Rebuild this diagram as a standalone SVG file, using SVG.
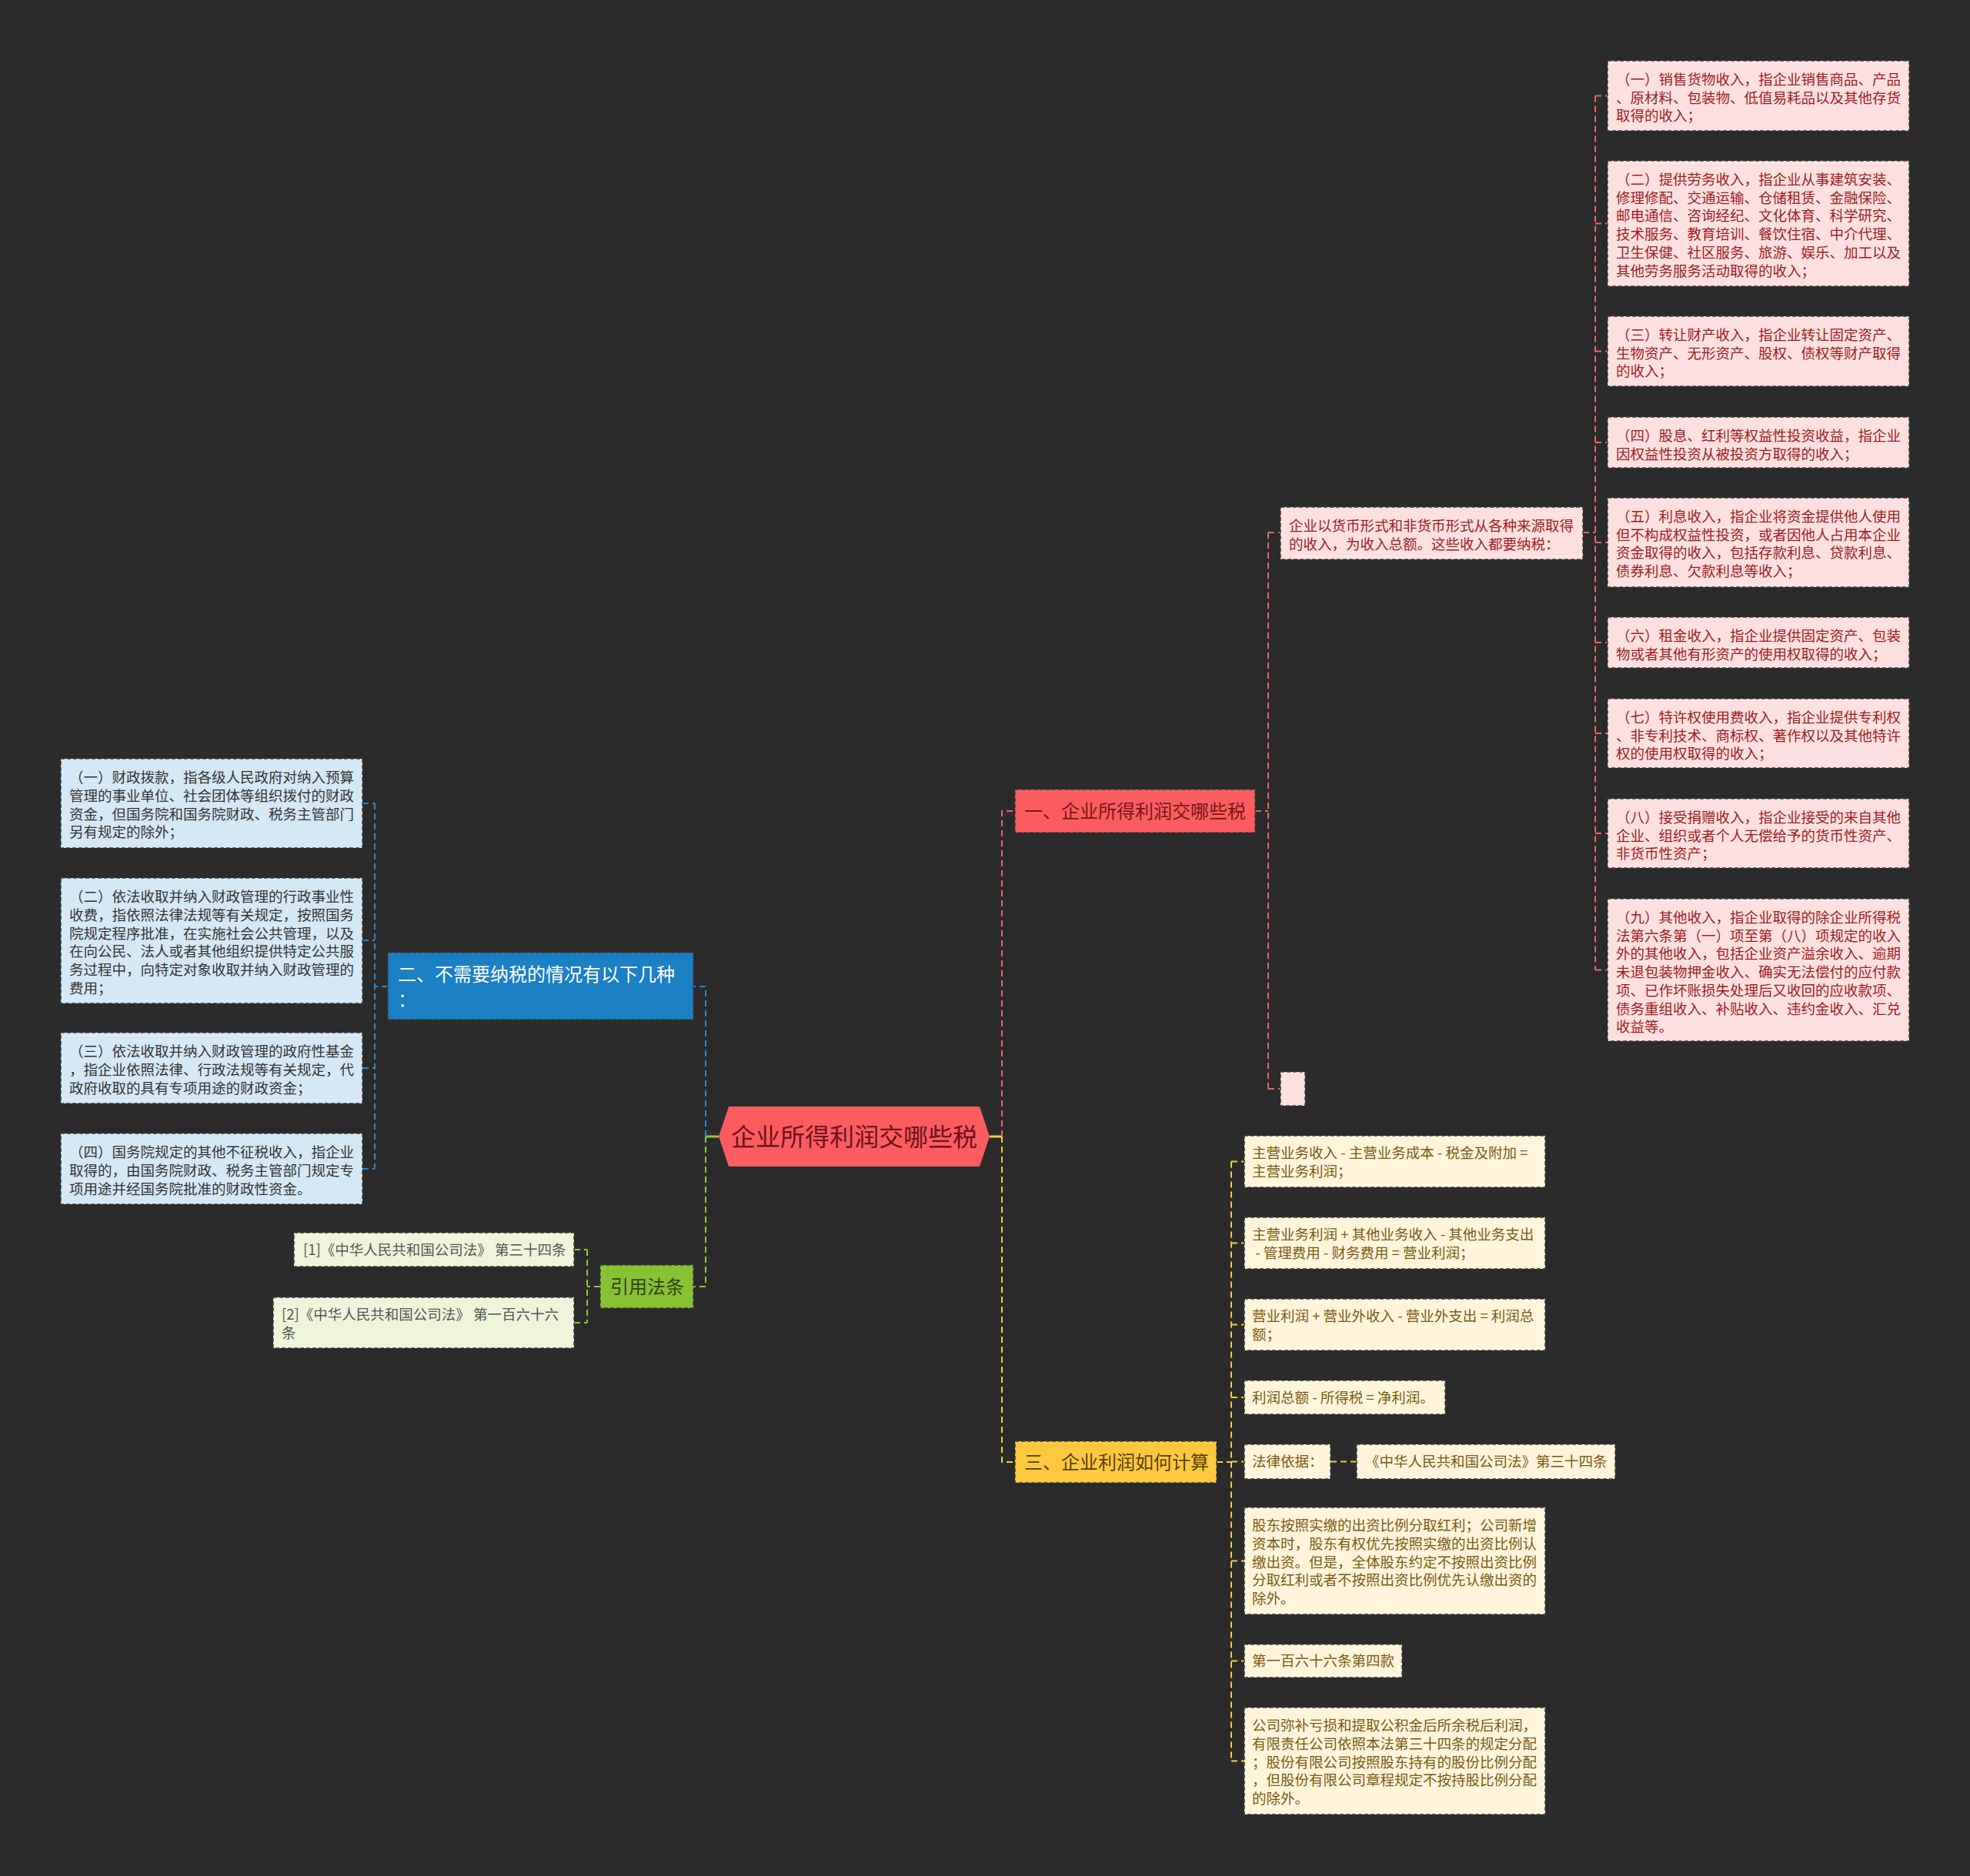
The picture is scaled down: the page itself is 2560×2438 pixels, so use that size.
<svg xmlns="http://www.w3.org/2000/svg" width="2560" height="2438" viewBox="0 0 2560 2438">
<style>
text{font-family:"Noto Sans CJK SC","Noto Sans",sans-serif;}
.box{stroke:#3d3d3d;stroke-width:1.5;stroke-dasharray:5 3;}
.pk{fill:#ffe0e1;}
.bl{fill:#d5e8f5;}
.yl{fill:#fef5db;}
.gr{fill:#eef5da;}
.tpk{fill:#9c1c22;font-size:18.5px;}
.tbl{fill:#333333;font-size:18.5px;}
.tyl{fill:#7a5a10;font-size:18.5px;}
.tgr{fill:#555555;font-size:18.5px;}
.c{fill:none;stroke-width:2;stroke-dasharray:8 5;}
.cp{stroke:#e8676c;}
.cb{stroke:#2b88cf;}
.cg{stroke:#8fc644;}
.cy{stroke:#f0cf46;}
.s{fill:none;stroke-width:3;}
</style>
<rect x="0" y="0" width="2560" height="2438" fill="#2b2b2b"/>

<g id="connectors">
<path class="s" stroke="#f0cf46" d="M1286,1477 H1302"/>
<path class="s" stroke="#8fc644" d="M934,1477 H917"/>
<path class="c cp" d="M1302,1477 V1054 H1319"/>
<path class="c cp" d="M1631,1054 H1648 M1648,692 V1415 M1648,692 H1664 M1648,1415 H1664"/>
<path class="c cp" d="M2057,692 H2073 M2073,124.5 V1260.5 M2073,124.5 H2089 M2073,290.5 H2089 M2073,456.5 H2089 M2073,575 H2089 M2073,705 H2089 M2073,835 H2089 M2073,953 H2089 M2073,1083 H2089 M2073,1260.5 H2089"/>
<path class="c cy" d="M1302,1477 V1900 H1319"/>
<path class="c cy" d="M1581,1900 H1600 M1600,1509.5 V2288.5 M1600,1509.5 H1617 M1600,1615.5 H1617 M1600,1721.5 H1617 M1600,1816 H1617 M1600,1899.5 H1617 M1600,2028.5 H1617 M1600,2158.5 H1617 M1600,2288.5 H1617 M1729,1899.5 H1763"/>
<path class="c cb" d="M917,1477 V1282 H901"/>
<path class="c cb" d="M504,1282 H487 M487,1044 V1519 M471,1044 H487 M471,1222 H487 M471,1388 H487 M471,1519 H487"/>
<path class="c cg" d="M917,1477 V1672 H901"/>
<path class="c cg" d="M780,1672 H763 M763,1624 V1719 M746,1624 H763 M746,1719 H763"/>
</g>

<g id="root">
<polygon points="934,1477 947,1438 1273,1438 1286,1477 1273,1516 947,1516" fill="#fb5c60"/>
<text x="1110" y="1489" text-anchor="middle" font-size="32" fill="#6e1215">企业所得利润交哪些税</text>
</g>

<g id="n1">
<rect class="box" x="1319" y="1026" width="312" height="56" fill="#fb5c60"/>
<text x="1331" y="1063" font-size="24" fill="#7a1418">一、企业所得利润交哪些税</text>
</g>

<g id="n1-intro">
<rect class="box pk" x="1664" y="659" width="393" height="68"/>
<text class="tpk" x="1675"><tspan x="1675" y="690">企业以货币形式和非货币形式从各种来源取得</tspan><tspan x="1675" y="714">的收入，为收入总额。这些收入都要纳税：</tspan></text>
</g>

<g id="n1-empty">
<rect class="box pk" x="1664" y="1393" width="32" height="44"/>
</g>

<g id="p1">
<rect class="box pk" x="2089" y="79" width="392" height="91"/>
<text class="tpk"><tspan x="2100" y="110">（一）销售货物收入，指企业销售商品、产品</tspan><tspan x="2100" y="133.7">、原材料、包装物、低值易耗品以及其他存货</tspan><tspan x="2100" y="157.4">取得的收入；</tspan></text>
</g>
<g id="p2">
<rect class="box pk" x="2089" y="209" width="392" height="163"/>
<text class="tpk"><tspan x="2100" y="240">（二）提供劳务收入，指企业从事建筑安装、</tspan><tspan x="2100" y="263.7">修理修配、交通运输、仓储租赁、金融保险、</tspan><tspan x="2100" y="287.4">邮电通信、咨询经纪、文化体育、科学研究、</tspan><tspan x="2100" y="311.1">技术服务、教育培训、餐饮住宿、中介代理、</tspan><tspan x="2100" y="334.8">卫生保健、社区服务、旅游、娱乐、加工以及</tspan><tspan x="2100" y="358.5">其他劳务服务活动取得的收入；</tspan></text>
</g>
<g id="p3">
<rect class="box pk" x="2089" y="411" width="392" height="91"/>
<text class="tpk"><tspan x="2100" y="442">（三）转让财产收入，指企业转让固定资产、</tspan><tspan x="2100" y="465.7">生物资产、无形资产、股权、债权等财产取得</tspan><tspan x="2100" y="489.4">的收入；</tspan></text>
</g>
<g id="p4">
<rect class="box pk" x="2089" y="542" width="392" height="66"/>
<text class="tpk"><tspan x="2100" y="573">（四）股息、红利等权益性投资收益，指企业</tspan><tspan x="2100" y="596.7">因权益性投资从被投资方取得的收入；</tspan></text>
</g>
<g id="p5">
<rect class="box pk" x="2089" y="647" width="392" height="116"/>
<text class="tpk"><tspan x="2100" y="678">（五）利息收入，指企业将资金提供他人使用</tspan><tspan x="2100" y="701.7">但不构成权益性投资，或者因他人占用本企业</tspan><tspan x="2100" y="725.4">资金取得的收入，包括存款利息、贷款利息、</tspan><tspan x="2100" y="749.1">债券利息、欠款利息等收入；</tspan></text>
</g>
<g id="p6">
<rect class="box pk" x="2089" y="802" width="392" height="66"/>
<text class="tpk"><tspan x="2100" y="833">（六）租金收入，指企业提供固定资产、包装</tspan><tspan x="2100" y="856.7">物或者其他有形资产的使用权取得的收入；</tspan></text>
</g>
<g id="p7">
<rect class="box pk" x="2089" y="908" width="392" height="90"/>
<text class="tpk"><tspan x="2100" y="939">（七）特许权使用费收入，指企业提供专利权</tspan><tspan x="2100" y="962.7">、非专利技术、商标权、著作权以及其他特许</tspan><tspan x="2100" y="986.4">权的使用权取得的收入；</tspan></text>
</g>
<g id="p8">
<rect class="box pk" x="2089" y="1038" width="392" height="90"/>
<text class="tpk"><tspan x="2100" y="1069">（八）接受捐赠收入，指企业接受的来自其他</tspan><tspan x="2100" y="1092.7">企业、组织或者个人无偿给予的货币性资产、</tspan><tspan x="2100" y="1116.4">非货币性资产；</tspan></text>
</g>
<g id="p9">
<rect class="box pk" x="2089" y="1168" width="392" height="185"/>
<text class="tpk"><tspan x="2100" y="1199">（九）其他收入，指企业取得的除企业所得税</tspan><tspan x="2100" y="1222.7">法第六条第（一）项至第（八）项规定的收入</tspan><tspan x="2100" y="1246.4">外的其他收入，包括企业资产溢余收入、逾期</tspan><tspan x="2100" y="1270.1">未退包装物押金收入、确实无法偿付的应付款</tspan><tspan x="2100" y="1293.8">项、已作坏账损失处理后又收回的应收款项、</tspan><tspan x="2100" y="1317.5">债务重组收入、补贴收入、违约金收入、汇兑</tspan><tspan x="2100" y="1341.2">收益等。</tspan></text>
</g>

<g id="n2">
<rect class="box" x="504" y="1238" width="397" height="87" fill="#1b7fc4"/>
<text font-size="24" fill="#ffffff"><tspan x="517" y="1275">二、不需要纳税的情况有以下几种</tspan><tspan x="517" y="1308">：</tspan></text>
</g>
<g id="b1">
<rect class="box bl" x="79" y="986" width="392" height="116"/>
<text class="tbl"><tspan x="90" y="1017">（一）财政拨款，指各级人民政府对纳入预算</tspan><tspan x="90" y="1040.8">管理的事业单位、社会团体等组织拨付的财政</tspan><tspan x="90" y="1064.6">资金，但国务院和国务院财政、税务主管部门</tspan><tspan x="90" y="1088.4">另有规定的除外；</tspan></text>
</g>
<g id="b2">
<rect class="box bl" x="79" y="1141" width="392" height="163"/>
<text class="tbl"><tspan x="90" y="1172">（二）依法收取并纳入财政管理的行政事业性</tspan><tspan x="90" y="1195.8">收费，指依照法律法规等有关规定，按照国务</tspan><tspan x="90" y="1219.6">院规定程序批准，在实施社会公共管理，以及</tspan><tspan x="90" y="1243.4">在向公民、法人或者其他组织提供特定公共服</tspan><tspan x="90" y="1267.2">务过程中，向特定对象收取并纳入财政管理的</tspan><tspan x="90" y="1291">费用；</tspan></text>
</g>
<g id="b3">
<rect class="box bl" x="79" y="1342" width="392" height="92"/>
<text class="tbl"><tspan x="90" y="1373">（三）依法收取并纳入财政管理的政府性基金</tspan><tspan x="90" y="1396.8">，指企业依照法律、行政法规等有关规定，代</tspan><tspan x="90" y="1420.6">政府收取的具有专项用途的财政资金；</tspan></text>
</g>
<g id="b4">
<rect class="box bl" x="79" y="1473" width="392" height="92"/>
<text class="tbl"><tspan x="90" y="1504">（四）国务院规定的其他不征税收入，指企业</tspan><tspan x="90" y="1527.8">取得的，由国务院财政、税务主管部门规定专</tspan><tspan x="90" y="1551.6">项用途并经国务院批准的财政性资金。</tspan></text>
</g>

<g id="n4">
<rect class="box" x="780" y="1644" width="121" height="56" fill="#86c232"/>
<text x="793" y="1681" font-size="24" fill="#2f4212">引用法条</text>
</g>
<g id="r1">
<rect class="box gr" x="382" y="1602" width="364" height="44"/>
<text class="tgr" x="394" y="1631">[1]《中华人民共和国公司法》 第三十四条</text>
</g>
<g id="r2">
<rect class="box gr" x="355" y="1686" width="391" height="66"/>
<text class="tgr"><tspan x="366" y="1715">[2]《中华人民共和国公司法》 第一百六十六</tspan><tspan x="366" y="1738.8">条</tspan></text>
</g>

<g id="n3">
<rect class="box" x="1319" y="1873" width="262" height="54" fill="#fcc93e"/>
<text x="1331" y="1909" font-size="24" fill="#5a3f05">三、企业利润如何计算</text>
</g>
<g id="y1">
<rect class="box yl" x="1617" y="1476" width="391" height="67"/>
<text class="tyl"><tspan x="1627" y="1505">主营业务收入 - 主营业务成本 - 税金及附加 =</tspan><tspan x="1627" y="1528.8">主营业务利润；</tspan></text>
</g>
<g id="y2">
<rect class="box yl" x="1617" y="1582" width="391" height="67"/>
<text class="tyl"><tspan x="1627" y="1611">主营业务利润 + 其他业务收入 - 其他业务支出</tspan><tspan x="1627" y="1634.8"> - 管理费用 - 财务费用 = 营业利润；</tspan></text>
</g>
<g id="y3">
<rect class="box yl" x="1617" y="1688" width="391" height="67"/>
<text class="tyl"><tspan x="1627" y="1717">营业利润 + 营业外收入 - 营业外支出 = 利润总</tspan><tspan x="1627" y="1740.8">额；</tspan></text>
</g>
<g id="y4">
<rect class="box yl" x="1617" y="1794" width="261" height="44"/>
<text class="tyl" x="1627" y="1823">利润总额 - 所得税 = 净利润。</text>
</g>
<g id="y5">
<rect class="box yl" x="1617" y="1877" width="112" height="45"/>
<text class="tyl" x="1627" y="1906">法律依据：</text>
</g>
<g id="y5b">
<rect class="box yl" x="1763" y="1877" width="336" height="45"/>
<text class="tyl" x="1774" y="1906">《中华人民共和国公司法》第三十四条</text>
</g>
<g id="y6">
<rect class="box yl" x="1617" y="1959" width="391" height="139"/>
<text class="tyl"><tspan x="1627" y="1989">股东按照实缴的出资比例分取红利；公司新增</tspan><tspan x="1627" y="2012.8">资本时，股东有权优先按照实缴的出资比例认</tspan><tspan x="1627" y="2036.6">缴出资。但是，全体股东约定不按照出资比例</tspan><tspan x="1627" y="2060.4">分取红利或者不按照出资比例优先认缴出资的</tspan><tspan x="1627" y="2084.2">除外。</tspan></text>
</g>
<g id="y7">
<rect class="box yl" x="1617" y="2137" width="205" height="43"/>
<text class="tyl" x="1627" y="2165">第一百六十六条第四款</text>
</g>
<g id="y8">
<rect class="box yl" x="1617" y="2219" width="391" height="139"/>
<text class="tyl"><tspan x="1627" y="2249">公司弥补亏损和提取公积金后所余税后利润，</tspan><tspan x="1627" y="2272.8">有限责任公司依照本法第三十四条的规定分配</tspan><tspan x="1627" y="2296.6">；股份有限公司按照股东持有的股份比例分配</tspan><tspan x="1627" y="2320.4">，但股份有限公司章程规定不按持股比例分配</tspan><tspan x="1627" y="2344.2">的除外。</tspan></text>
</g>
</svg>
